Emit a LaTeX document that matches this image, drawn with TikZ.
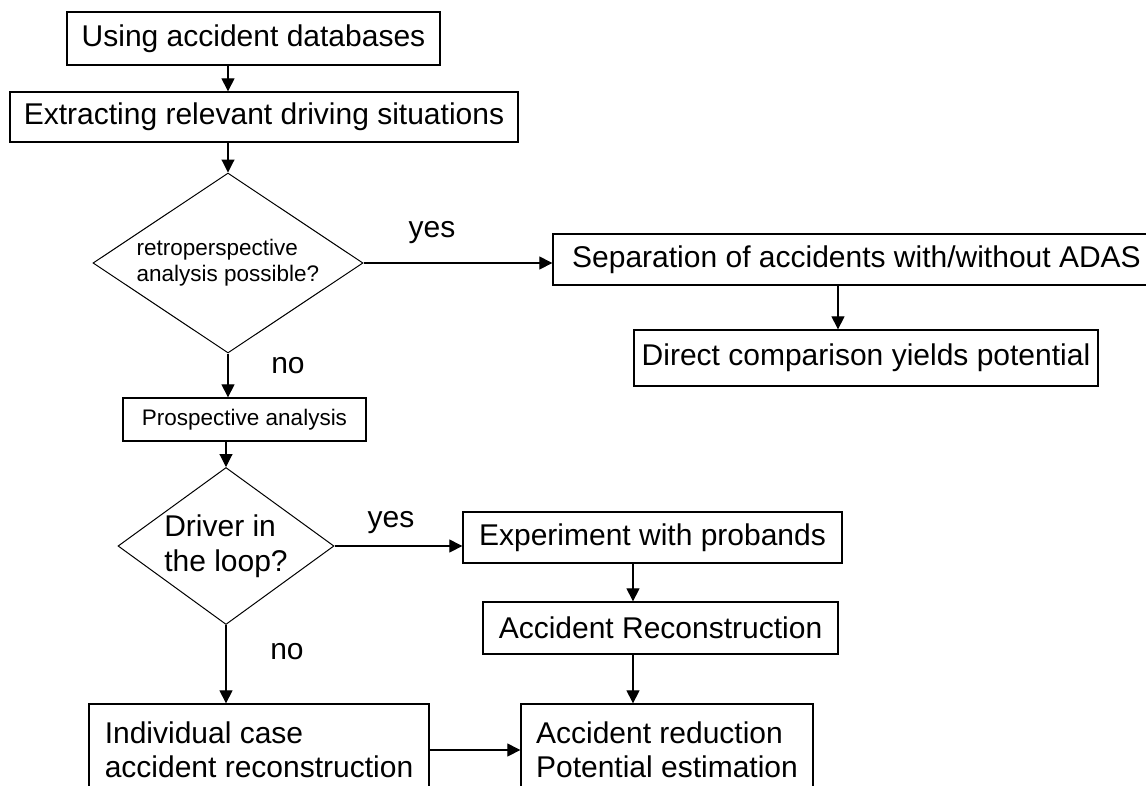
\documentclass[tikz,border=0pt]{standalone}
\usepackage{fontspec}
\setmainfont{Liberation Sans}
\usetikzlibrary{arrows.meta}
\usetikzlibrary{shapes.geometric}

\tikzset{
  stepbox/.style={draw, line width=1.3pt, rectangle, inner sep=0pt, align=center, font=\fontsize{30}{34}\selectfont},
  smallbox/.style={stepbox, font=\fontsize{22.5}{26}\selectfont},
  query/.style={draw, line width=1pt, diamond, inner sep=0pt, align=left},
  flow/.style={-{Triangle[length=13pt,width=13pt]}, line width=1.1pt},
  answer/.style={font=\fontsize{30}{34}\selectfont}
}

\begin{document}
\begin{tikzpicture}[x=1pt,y=-1pt]
          \clip (0,0) rectangle (1146,785);
          \fill[white] (0,0) rectangle (1146,785);
          % helper columns
          \coordinate (colsep) at (838,0);
          \coordinate (colexp) at (633,0);
          % main column
          \node[stepbox, minimum width=373, minimum height=53] (db) at (253.5,38.5) {Using accident databases};
          \node[stepbox, minimum width=508, minimum height=50] (extract) at (264,117) {Extracting relevant driving situations};
          \node[query, aspect=1.5, minimum width=270, minimum height=180, font=\fontsize{22.5}{26}\selectfont] (retro) at (228,263) {retroperspective\\analysis possible?};
          \node[smallbox, minimum width=243, minimum height=43] (prosp) at (244.5,419.5) {Prospective analysis};
          \node[query, aspect=1.376, minimum width=216, minimum height=157, font=\fontsize{30}{35}\selectfont] (loop) at (226,546) {Driver in\\the loop?};
          \node[stepbox, align=left, minimum width=340, minimum height=92] (indiv) at (259,750) {Individual case\\accident reconstruction};
          % retrospective branch
          \node[stepbox, minimum width=607, minimum height=51] (sep) at (856.5,259.5) {Separation of accidents with/without ADAS};
          \node[stepbox, minimum width=464, minimum height=56] (direct) at (866,358) {Direct comparison yields potential};
          % prospective branch
          \node[stepbox, minimum width=379, minimum height=51] (exper) at (652.5,537.5) {Experiment with probands};
          \node[stepbox, minimum width=355, minimum height=52] (recon) at (660.5,628) {Accident Reconstruction};
          \node[stepbox, align=left, minimum width=292, minimum height=92] (reduct) at (667,750) {Accident reduction\\Potential estimation};
          % answers
          \node[answer] (yesA) at (432,233) {yes};
          \node[answer] (noA) at (288,366) {no};
          \node[answer] (yesB) at (391,523) {yes};
          \node[answer] (noB) at (287,652) {no};
          % arrows
          \draw[flow] (db.south -| retro) -- (extract.north -| retro);
          \draw[flow] (extract.south -| retro) -- (retro.north);
          \draw[flow] (retro.east) -- (retro.east -| sep.west);
          \draw[flow] (sep.south -| colsep) -- (direct.north -| colsep);
          \draw[flow] (retro.south) -- (prosp.north -| retro);
          \draw[flow] (prosp.south -| loop) -- (loop.north);
          \draw[flow] (loop.east) -- (loop.east -| exper.west);
          \draw[flow] (exper.south -| colexp) -- (recon.north -| colexp);
          \draw[flow] (recon.south -| colexp) -- (reduct.north -| colexp);
          \draw[flow] (loop.south) -- (indiv.north -| loop);
          \draw[flow] (indiv.east) -- (reduct.west);
        \end{tikzpicture}
\end{document}
